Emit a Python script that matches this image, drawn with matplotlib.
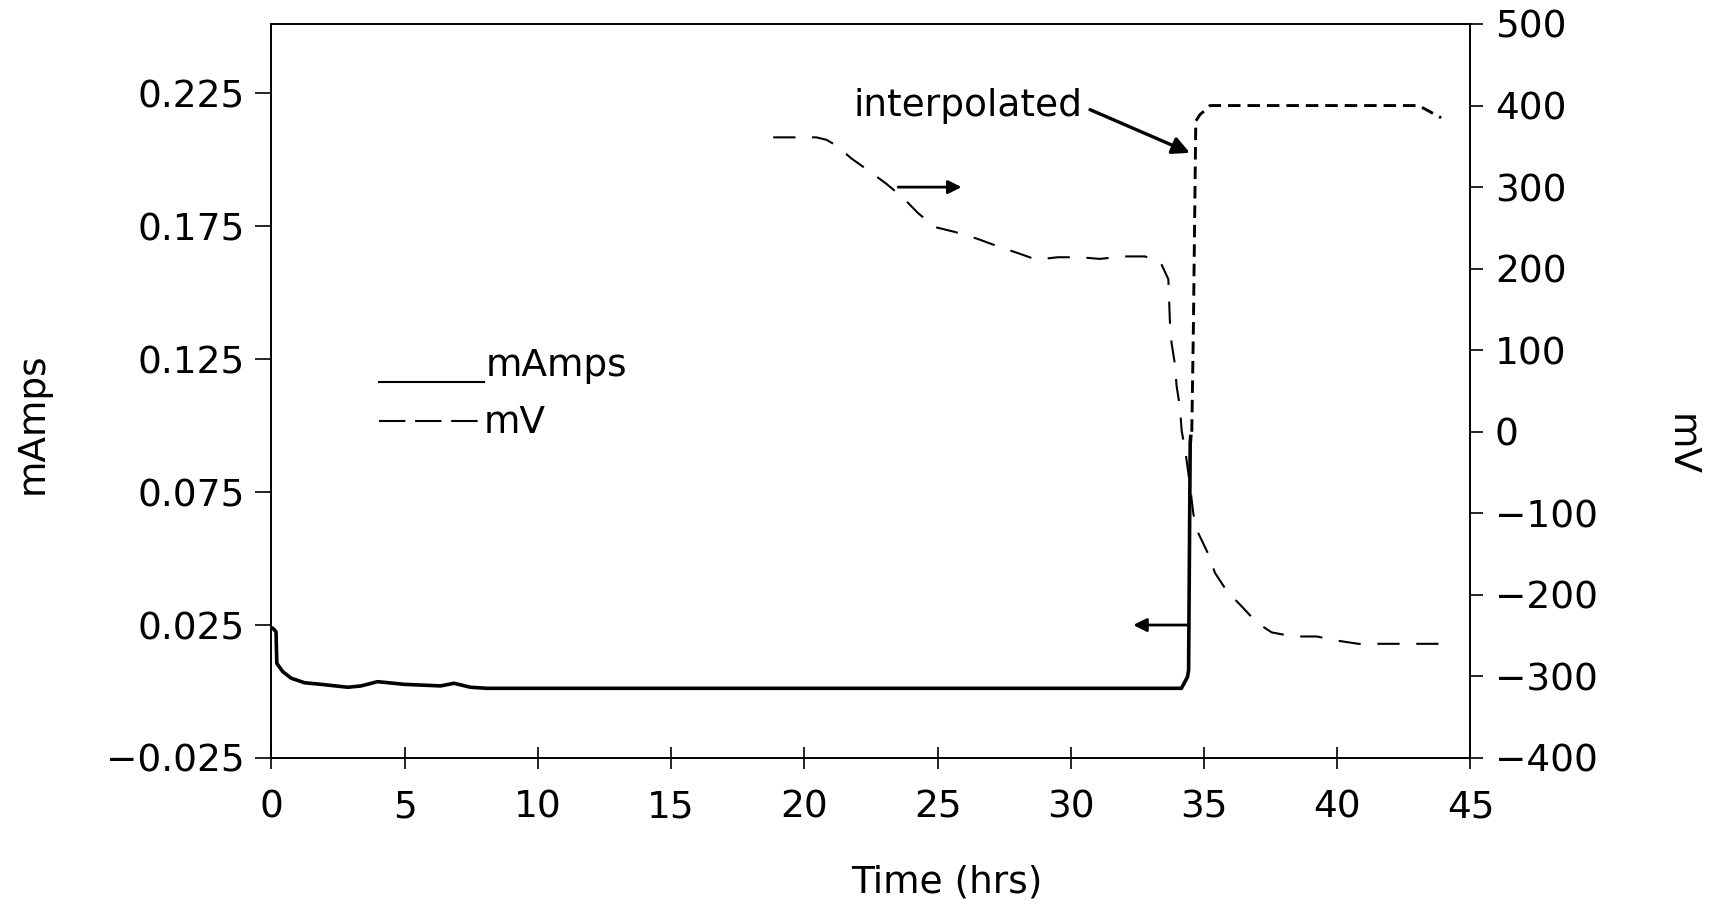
import matplotlib
matplotlib.use("Agg")
import matplotlib.pyplot as plt
from matplotlib.ticker import FuncFormatter, FixedLocator
from matplotlib.lines import Line2D

plt.rcParams["font.family"] = ["DejaVu Sans"]
plt.rcParams["lines.scale_dashes"] = False

# ---- data -------------------------------------------------------------
# current (left axis)
hours_ma = [0.0, 0.05, 0.17, 0.2, 0.42, 0.74, 1.24, 1.86, 2.86, 3.36, 3.98,
            4.98, 6.35, 6.85, 7.47, 8.1, 34.0, 34.15, 34.38, 34.42, 34.48, 34.5]
mamps = [0.0240, 0.0238, 0.0225, 0.0106, 0.0075, 0.0050, 0.0033, 0.0027,
         0.0016, 0.0021, 0.0037, 0.0027, 0.0021, 0.0031, 0.0016, 0.0012,
         0.0012, 0.0012, 0.0055, 0.0080, 0.0934, 0.0959]

# potential (right axis)
hours_mv = [18.83, 20.45, 20.83, 21.2, 21.77, 22.46, 23.08, 23.7, 24.27, 24.9,
            25.65, 26.46, 27.21, 28.02, 28.71, 29.5, 30.34, 31.09, 31.97, 32.78,
            33.35, 33.66, 33.72, 33.78, 33.91, 33.97, 34.1, 34.16, 34.29, 34.45,
            34.6, 34.78, 35.16, 35.41, 35.85, 36.41, 36.98, 37.54, 38.35, 39.23,
            39.98, 40.79, 41.6, 42.48, 44.05]
millivolts = [361, 361, 358, 351, 335, 319, 304, 287, 268, 251,
              245, 237, 228, 219, 211, 214, 214, 212, 215, 215,
              209, 187, 134, 109, 82, 56, 29, 1, -22, -60,
              -101, -124, -150, -173, -195, -214, -234, -246, -251, -251,
              -256, -260, -260, -260, -260]

# interpolated potential
hours_interp = [34.54, 34.6, 34.69, 34.85, 35.1, 35.22, 43.05, 43.9]
mv_interp = [0, 128, 381, 389, 396, 400, 400, 385]

x_ticks = [0, 5, 10, 15, 20, 25, 30, 35, 40, 45]
ma_ticks = [-0.025, 0.025, 0.075, 0.125, 0.175, 0.225]
mv_ticks = [-400, -300, -200, -100, 0, 100, 200, 300, 400, 500]

FS = 27

# ---- figure -----------------------------------------------------------
fig = plt.figure(figsize=(17.23, 9.09), dpi=100)
ax = fig.add_axes([0.15757, 0.16612, 0.69588, 0.80748])
ax2 = ax.twinx()

ax.plot(hours_ma, mamps, color="black", lw=2.6, solid_joinstyle="round")
ax2.plot(hours_mv, millivolts, color="black", lw=1.5, linestyle=(0, (16, 12)))
ax2.plot(hours_interp, mv_interp, color="black", lw=2.1, linestyle=(0, (9, 5)))

ax.set_xlim(0, 45)
ax.set_ylim(-0.025, 0.251)
ax2.set_ylim(-400, 500)

ax.xaxis.set_major_locator(FixedLocator(x_ticks))
ax.yaxis.set_major_locator(FixedLocator(ma_ticks))
ax.yaxis.set_major_formatter(
    FuncFormatter(lambda v, pos: f"{v:.3f}".replace("-", "\u2212")))
ax2.yaxis.set_major_locator(FixedLocator(mv_ticks))

for a in (ax, ax2):
    for s in a.spines.values():
        s.set_linewidth(1.2)

ax.tick_params(axis="x", direction="inout", length=16, width=1.2, pad=15,
               labelsize=FS)
ax.tick_params(axis="y", direction="out", length=11.5, width=1.2, pad=8,
               labelsize=FS)
ax2.tick_params(axis="y", direction="out", length=9.5, width=1.2, pad=8,
                labelsize=FS)

ax.set_xlabel("Time (hrs)", fontsize=FS, va="center")
ax.xaxis.set_label_coords(0.563, -0.169)
ax.set_ylabel("mAmps", fontsize=FS, rotation=90, va="center")
ax.yaxis.set_label_coords(-0.199, 0.456)
ax2.set_ylabel("mV", fontsize=FS, rotation=270, va="center")
ax2.yaxis.set_label_coords(1.1756, 0.426)

# legend drawn as short line samples with text
ax.add_line(Line2D([0.0897, 0.177], [0.512, 0.512], transform=ax.transAxes,
                   color="black", lw=1.5))
ax.text(0.179, 0.534, "mAmps", transform=ax.transAxes, fontsize=FS,
        ha="left", va="center")
ax.add_line(Line2D([0.0897, 0.172], [0.459, 0.459], transform=ax.transAxes,
                   color="black", lw=1.5, linestyle=(0, (19, 7))))
ax.text(0.177, 0.456, "mV", transform=ax.transAxes, fontsize=FS,
        ha="left", va="center")

# axis-indicator arrows
ax.annotate("", xy=(32.34, 0.025), xytext=(34.41, 0.025),
            arrowprops=dict(arrowstyle="-|>", lw=2.0, color="black",
                            mutation_scale=20, shrinkA=0, shrinkB=0))
ax2.annotate("", xy=(25.9, 300), xytext=(23.52, 300),
             arrowprops=dict(arrowstyle="-|>", lw=2.0, color="black",
                             mutation_scale=20, shrinkA=0, shrinkB=0))

# annotation for the interpolated section
ax2.text(30.45, 400, "interpolated", fontsize=FS, ha="right", va="center")
ax2.annotate("", xy=(34.47, 342), xytext=(30.72, 395),
             arrowprops=dict(arrowstyle="-|>", lw=2.4, color="black",
                             mutation_scale=26, shrinkA=0, shrinkB=0))

fig.savefig("out.png", dpi=100, facecolor="white")
